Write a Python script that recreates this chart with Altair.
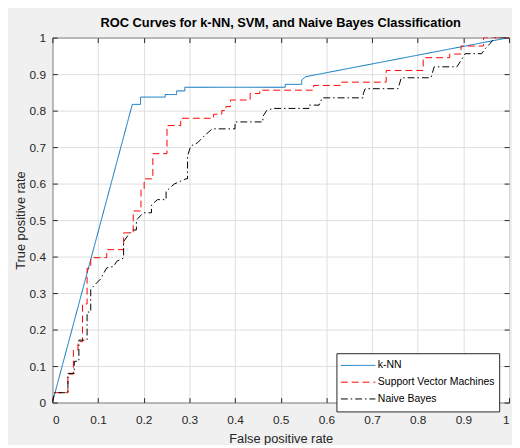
import altair as alt
import pandas as pd

# ---------------- data ----------------
series_names = ["k-NN", "Support Vector Machines", "Naive Bayes"]
series_colors = ["#0072BD", "#FF0000", "#000000"]
series_dashes = [[1, 0], [7, 4], [7, 3, 1.5, 3]]
tick_values = [0, 0.1, 0.2, 0.3, 0.4, 0.5, 0.6, 0.7, 0.8, 0.9, 1.0]

knn_fpr = [0, 0.175, 0.193, 0.193, 0.247, 0.247, 0.272, 0.272, 0.290, 0.290,
           0.510, 0.510, 0.546, 0.546, 0.555, 1.0]
knn_tpr = [0, 0.817, 0.817, 0.837, 0.837, 0.844, 0.844, 0.854, 0.854, 0.864,
           0.864, 0.872, 0.872, 0.884, 0.893, 1.0]

svm_fpr = [0, 0.004, 0.034, 0.034, 0.046, 0.046, 0.056, 0.056, 0.066, 0.066,
           0.076, 0.076, 0.084, 0.084, 0.119, 0.119, 0.156, 0.156, 0.177, 0.177,
           0.194, 0.194, 0.201, 0.201, 0.220, 0.220, 0.251, 0.251, 0.281, 0.281,
           0.353, 0.353, 0.371, 0.371, 0.380, 0.380, 0.390, 0.390, 0.433, 0.433,
           0.454, 0.454, 0.572, 0.572, 0.633, 0.633, 0.731, 0.731, 0.812, 0.812,
           0.870, 0.870, 0.895, 0.895, 0.944, 0.944, 1.0]
svm_tpr = [0, 0.027, 0.027, 0.078, 0.078, 0.144, 0.144, 0.167, 0.167, 0.270,
           0.270, 0.368, 0.368, 0.397, 0.397, 0.419, 0.419, 0.465, 0.465, 0.525,
           0.525, 0.586, 0.586, 0.613, 0.613, 0.682, 0.682, 0.759, 0.759, 0.779,
           0.779, 0.790, 0.790, 0.800, 0.800, 0.811, 0.811, 0.829, 0.829, 0.847,
           0.847, 0.856, 0.856, 0.869, 0.869, 0.878, 0.878, 0.910, 0.910, 0.945,
           0.945, 0.955, 0.955, 0.977, 0.977, 1.0, 1.0]

nb_fpr = [0, 0.004, 0.034, 0.034, 0.048, 0.048, 0.058, 0.058, 0.076, 0.076,
          0.084, 0.084, 0.105, 0.119, 0.134, 0.141, 0.156, 0.156, 0.166, 0.177,
          0.184, 0.184, 0.199, 0.217, 0.217, 0.230, 0.249, 0.249, 0.267, 0.292,
          0.296, 0.296, 0.303, 0.318, 0.332, 0.350, 0.400, 0.400, 0.461, 0.461,
          0.469, 0.483, 0.562, 0.562, 0.584, 0.591, 0.681, 0.681, 0.685, 0.757,
          0.764, 0.829, 0.836, 0.886, 0.895, 0.904, 0.940, 0.948, 0.958, 0.969,
          1.0]
nb_tpr = [0, 0.027, 0.027, 0.080, 0.080, 0.113, 0.113, 0.171, 0.171, 0.248,
          0.248, 0.311, 0.338, 0.369, 0.373, 0.387, 0.396, 0.441, 0.459, 0.473,
          0.473, 0.500, 0.520, 0.520, 0.541, 0.556, 0.556, 0.579, 0.599, 0.613,
          0.613, 0.676, 0.703, 0.712, 0.730, 0.750, 0.750, 0.769, 0.769, 0.784,
          0.800, 0.806, 0.806, 0.815, 0.815, 0.835, 0.835, 0.847, 0.860, 0.860,
          0.890, 0.890, 0.920, 0.920, 0.938, 0.956, 0.956, 0.970, 0.983, 1.0,
          1.0]

rows = []
for name, xs, ys in zip(series_names, [knn_fpr, svm_fpr, nb_fpr], [knn_tpr, svm_tpr, nb_tpr]):
    for i, (xv, yv) in enumerate(zip(xs, ys)):
        rows.append({"model": name, "fpr": xv, "tpr": yv, "i": i})
df = pd.DataFrame(rows)

# ---------------- styling ----------------
FONT = "Liberation Sans, Arial, sans-serif"
AX = "#262626"
W, H = 463, 370

xscale = alt.Scale(domain=[0, 1], nice=False, zero=False)
yscale = alt.Scale(domain=[0, 1], nice=False, zero=False)

legend = alt.Legend(
    orient="none", legendX=288, legendY=320, title=None,
    fillColor="white", strokeColor=AX, padding=4,
    symbolType="stroke", symbolSize=1225, symbolStrokeWidth=1,
    labelFont=FONT, labelFontSize=10.6, labelColor="black", labelOffset=2,
    clipHeight=16.7, rowPadding=0,
)

main = alt.Chart(df).mark_line(strokeWidth=1, clip=True).encode(
    x=alt.X("fpr:Q", scale=xscale, axis=alt.Axis(
        orient="bottom", values=tick_values, format="~g", title="False positive rate",
        grid=True, gridColor="#dedede", domain=False, ticks=False, labelPadding=12,
        labelFont=FONT, labelFontSize=12, labelColor=AX,
        titleFont=FONT, titleFontSize=13, titleFontWeight="normal", titleColor=AX,
        titleX=W / 2, titleY=41, titleBaseline="alphabetic")),
    y=alt.Y("tpr:Q", scale=yscale, axis=alt.Axis(
        orient="left", values=tick_values, format="~g", title="True positive rate",
        grid=True, gridColor="#dedede", domain=False, ticks=False, labelPadding=7,
        labelFont=FONT, labelFontSize=12, labelColor=AX,
        titleFont=FONT, titleFontSize=13, titleFontWeight="normal", titleColor=AX,
        titleX=-28, titleY=H / 2, titleBaseline="alphabetic")),
    color=alt.Color("model:N", sort=series_names,
                    scale=alt.Scale(domain=series_names, range=series_colors), legend=legend),
    strokeDash=alt.StrokeDash("model:N", sort=series_names,
                              scale=alt.Scale(domain=series_names, range=series_dashes), legend=legend),
    order="i:Q",
)

tick_axis = dict(values=tick_values, labels=False, domain=False, grid=False, ticks=True,
                 tickSize=5, tickColor=AX, title=None)

ticks_tr = alt.Chart(df).mark_point(opacity=0).encode(
    x=alt.X("fpr:Q", scale=xscale, axis=alt.Axis(orient="top", offset=-5, **tick_axis)),
    y=alt.Y("tpr:Q", scale=yscale, axis=alt.Axis(orient="right", offset=-5, **tick_axis)),
)
ticks_bl = alt.Chart(df).mark_point(opacity=0).encode(
    x=alt.X("fpr:Q", scale=xscale, axis=alt.Axis(orient="bottom", offset=-5, **tick_axis)),
    y=alt.Y("tpr:Q", scale=yscale, axis=alt.Axis(orient="left", offset=-5, **tick_axis)),
)

chart = alt.layer(main, ticks_tr, ticks_bl).resolve_axis(
    x="independent", y="independent"
).properties(
    width=W, height=H,
    autosize=alt.AutoSizeParams(type="none"),
    padding={"left": 45, "top": 27, "right": 3, "bottom": 40},
    background="#f0f0f0",
    title=alt.TitleParams(
        "ROC Curves for k-NN, SVM, and Naive Bayes Classification",
        font=FONT, fontSize=13, fontWeight="bold", color="black",
        anchor="middle", frame="group", offset=8, baseline="alphabetic", dy=16),
).configure_view(fill="white", stroke=AX, strokeWidth=1)

chart.save("out.html", embed_options={"renderer": "svg", "actions": False})
